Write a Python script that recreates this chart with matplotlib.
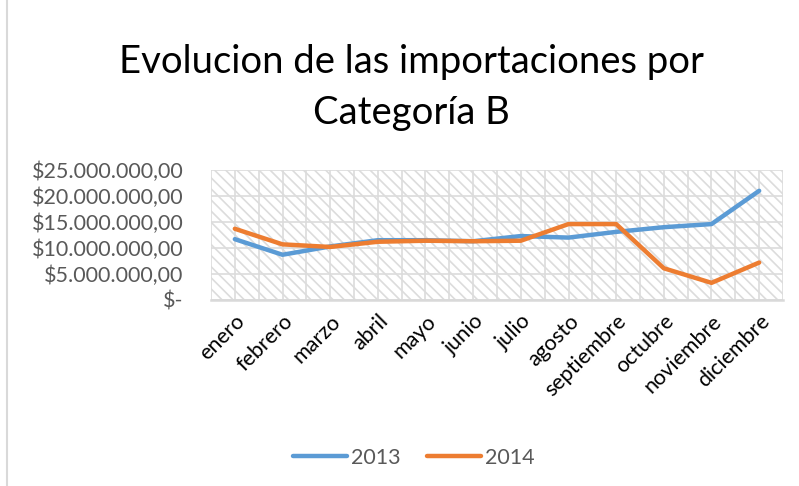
import numpy as np
import matplotlib
matplotlib.use("Agg")
import matplotlib.pyplot as plt
from matplotlib.patches import Rectangle
from matplotlib.lines import Line2D
from matplotlib.ticker import FuncFormatter
from matplotlib.transforms import ScaledTranslation

meses = ['enero', 'febrero', 'marzo', 'abril', 'mayo', 'junio', 'julio',
         'agosto', 'septiembre', 'octubre', 'noviembre', 'diciembre']
imp_2013 = [11.7, 8.7, 10.3, 11.5, 11.5, 11.3, 12.3, 12.0, 13.1, 14.0, 14.6, 21.0]
imp_2014 = [13.7, 10.7, 10.2, 11.2, 11.4, 11.3, 11.4, 14.6, 14.6, 6.1, 3.3, 7.2]
imp_2013 = [v * 1e6 for v in imp_2013]
imp_2014 = [v * 1e6 for v in imp_2014]

plt.rcParams['font.family'] = ['Lato', 'DejaVu Sans']
plt.rcParams['hatch.linewidth'] = 1.2

fig = plt.figure(figsize=(7.99, 4.86), dpi=100)
ax = fig.add_axes([211 / 799, 1 - 300 / 486, (783 - 211) / 799, 130 / 486])

x = np.arange(len(meses))

# fondo rayado
bg = Rectangle((0, 0), 1, 1, transform=ax.transAxes, facecolor='white',
               edgecolor='#DCDCDC', hatch='\\\\\\', linewidth=0, zorder=0)
ax.add_patch(bg)

ax.plot(x, imp_2013, color='#5B9BD5', lw=3.2, solid_capstyle='round', zorder=3, label='2013')
ax.plot(x, imp_2014, color='#ED7D31', lw=3.2, solid_capstyle='round', zorder=3, label='2014')

ax.set_xlim(-0.5, 11.5)
ax.set_ylim(0, 25e6)
ax.set_yticks(np.arange(0, 25e6 + 1, 5e6))
ax.set_xticks(x)
ax.set_xticks(np.arange(-0.5, 12, 1), minor=True)

def fmt(v, pos):
    if v == 0:
        return '$-'
    s = f'{v:,.2f}'
    s = s.replace(',', 'X').replace('.', ',').replace('X', '.')
    return '$' + s

ax.yaxis.set_major_formatter(FuncFormatter(fmt))
ax.set_xticklabels(meses, rotation=45, ha='right', rotation_mode='anchor',
                   fontsize=15.5, color='black')
off = ScaledTranslation(14 / 100, 0, fig.dpi_scale_trans)
for lbl in ax.get_xticklabels():
    lbl.set_transform(lbl.get_transform() + off)
ax.tick_params(axis='y', labelsize=15.5, colors='#595959', length=0, pad=20)
ax.tick_params(axis='x', which='both', length=0, pad=8)

ax.grid(True, which='both', axis='x', color='#DCDCDC', lw=1.2, zorder=1)
ax.grid(True, which='major', axis='y', color='#DCDCDC', lw=1.2, zorder=1)
ax.set_axisbelow(True)
for s in ['top', 'right', 'left']:
    ax.spines[s].set_visible(False)
ax.spines['bottom'].set_color('#D9D9D9')
ax.spines['bottom'].set_linewidth(1.8)

fig.text(411 / 799, 1 - 62 / 486, 'Evolucion de las importaciones por',
         ha='center', va='center', fontsize=27.5, color='black')
fig.text(411 / 799, 1 - 113 / 486, 'Categoría B',
         ha='center', va='center', fontsize=27.5, color='black')

leg = fig.legend(loc='center', bbox_to_anchor=(414 / 799, 1 - 458 / 486), ncol=2,
                 frameon=False, fontsize=15.5, handlelength=2.5, columnspacing=1.2,
                 handletextpad=0.2)
for t in leg.get_texts():
    t.set_color('#595959')

fig.add_artist(Line2D([7 / 799, 7 / 799], [0, 1], transform=fig.transFigure,
                      color='#D9D9D9', lw=1.5))

fig.savefig('out.png', dpi=100)
